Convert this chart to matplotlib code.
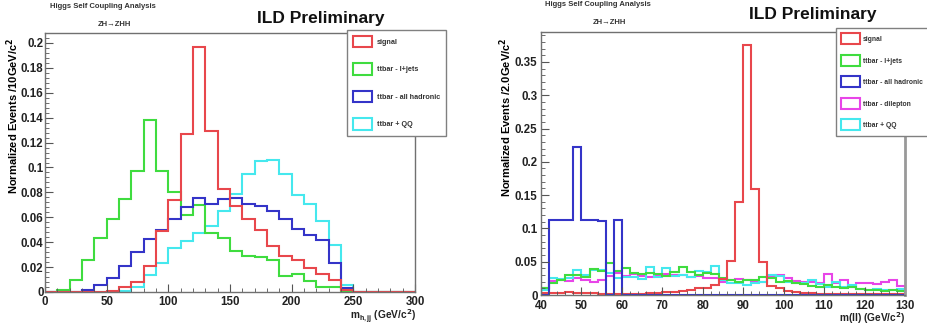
import numpy as np
import matplotlib.pyplot as plt
from matplotlib.patches import Patch
from matplotlib.ticker import MultipleLocator, FormatStrFormatter

plt.rcParams["font.family"] = ["Liberation Sans", "DejaVu Sans"]
plt.rcParams["font.weight"] = "bold"

# left panel: m_h,jj, 10 GeV bins from 0 to 300
mh_edges = np.arange(0, 310, 10)
mh_signal = [0, 0, 0, 0, 0, 0.001, 0.004, 0.008, 0.021, 0.049,
             0.074, 0.127, 0.197, 0.129, 0.083, 0.069, 0.0585, 0.050, 0.0367, 0.029,
             0.026, 0.019, 0.0144, 0.0095, 0.002, 0, 0, 0, 0, 0]
mh_ljets = [0, 0.002, 0.0095, 0.026, 0.0435, 0.059, 0.075, 0.097, 0.138, 0.097,
            0.080, 0.062, 0.070, 0.047, 0.043, 0.0326, 0.029, 0.028, 0.026, 0.0128,
            0.0144, 0.0087, 0.0044, 0.004, 0.001, 0, 0, 0, 0, 0]
mh_hadronic = [0, 0, 0, 0.0014, 0.0054, 0.011, 0.021, 0.032, 0.0427, 0.0498,
               0.059, 0.068, 0.0754, 0.0707, 0.0748, 0.0756, 0.0707, 0.0688, 0.0648, 0.059,
               0.0503, 0.0454, 0.0416, 0.023, 0.003, 0, 0, 0, 0, 0]
mh_qq = [0, 0, 0, 0, 0, 0, 0.001, 0.004, 0.0136, 0.023,
         0.035, 0.041, 0.047, 0.053, 0.065, 0.079, 0.095, 0.105, 0.106, 0.095,
         0.0775, 0.0707, 0.057, 0.038, 0.0054, 0, 0, 0, 0, 0]

# right panel: m(ll), 2 GeV bins from 40 to 130
mll_edges = np.arange(40, 132, 2)
mll_signal = [0.003, 0.003, 0.003, 0.004, 0.003, 0.003, 0.003, 0.002, 0.002, 0.002,
              0.002, 0.002, 0.002, 0.003, 0.003, 0.004, 0.005, 0.006, 0.008, 0.010,
              0.010, 0.015, 0.024, 0.051, 0.139, 0.376, 0.159, 0.049, 0.013, 0.010,
              0.006, 0.005, 0.003, 0.003, 0.002, 0.001, 0.001, 0.001, 0.001, 0.001,
              0.001, 0.001, 0.001, 0.001, 0.001]
mll_ljets = [0.010, 0.0175, 0.0225, 0.030, 0.030, 0.027, 0.039, 0.0365, 0.0475, 0.0365,
             0.040, 0.0325, 0.031, 0.0335, 0.031, 0.029, 0.035, 0.0425, 0.035, 0.030,
             0.0325, 0.0315, 0.025, 0.0225, 0.020, 0.022, 0.0225, 0.0275, 0.025, 0.020,
             0.021, 0.018, 0.016, 0.013, 0.012, 0.015, 0.012, 0.010, 0.012, 0.009,
             0.007, 0.008, 0.006, 0.007, 0.006]
mll_hadronic = [0, 0.1125, 0.1125, 0.112, 0.222, 0.112, 0.113, 0.111, 0, 0.112] + [0] * 35
mll_dilepton = [0.010, 0.0215, 0.0225, 0.0215, 0.026, 0.0225, 0.020, 0.0225, 0.028, 0.0325,
                0.0285, 0.031, 0.0285, 0.0265, 0.0285, 0.0315, 0.030, 0.030, 0.0265, 0.028,
                0.026, 0.025, 0.020, 0.0225, 0.0235, 0.022, 0.020, 0.020, 0.027, 0.030,
                0.025, 0.021, 0.020, 0.019, 0.0175, 0.031, 0.0175, 0.0225, 0.0125, 0.0185,
                0.0185, 0.016, 0.020, 0.0225, 0.0135]
mll_qq = [0.0075, 0.025, 0.0235, 0.025, 0.0375, 0.030, 0.0375, 0.0375, 0.0325, 0.025,
          0.0275, 0.0265, 0.024, 0.0425, 0.0275, 0.040, 0.0285, 0.030, 0.0275, 0.0365,
          0.035, 0.044, 0.0225, 0.0185, 0.0185, 0.015, 0.0175, 0.020, 0.030, 0.0285,
          0.020, 0.018, 0.0175, 0.0225, 0.0165, 0.0115, 0.020, 0.0125, 0.015, 0.0085,
          0.0075, 0.0085, 0.008, 0.007, 0.0085]

colors = {
    "signal": "#e8474c",
    "ttbar - l+jets": "#3fdc3f",
    "ttbar - all hadronic": "#3434c8",
    "ttbar - dilepton": "#e845e8",
    "ttbar + QQ": "#45e8ee",
}


def style_axis(ax, xmajor, xminor, ymajor, yminor, xpad, ypad):
    for spine in ax.spines.values():
        spine.set_color("#707070")
        spine.set_linewidth(1.0)
    ax.xaxis.set_major_locator(MultipleLocator(xmajor))
    ax.xaxis.set_minor_locator(MultipleLocator(xminor))
    ax.yaxis.set_major_locator(MultipleLocator(ymajor))
    ax.yaxis.set_minor_locator(MultipleLocator(yminor))
    ax.yaxis.set_major_formatter(FormatStrFormatter("%g"))
    ax.tick_params(which="both", direction="in", colors="#555555",
                   labelcolor="#222222", labelsize=8.3)
    ax.tick_params(which="major", length=6)
    ax.tick_params(which="minor", length=3)
    ax.tick_params(axis="y", pad=ypad)
    ax.tick_params(axis="x", pad=xpad)
    for lab in ax.get_xticklabels() + ax.get_yticklabels():
        lab.set_fontweight("bold")


def add_legend(ax, labels, bbox, handleheight, spacing, fontsize, textpad):
    handles = [Patch(facecolor="white", edgecolor=colors[l], linewidth=1.5) for l in labels]
    leg = ax.legend(handles, labels, loc="upper left", bbox_to_anchor=bbox,
                    bbox_transform=fig.transFigure, fontsize=fontsize, frameon=True,
                    fancybox=False, framealpha=1, edgecolor="#808080",
                    handlelength=2.7, handleheight=handleheight,
                    labelspacing=spacing, borderpad=0.8, borderaxespad=0,
                    handletextpad=textpad)
    leg.get_frame().set_linewidth(1.0)
    for t in leg.get_texts():
        t.set_fontweight("bold")
        t.set_color("#333333")


fig = plt.figure(figsize=(9.27, 3.27), dpi=100)

# left panel
ax1 = fig.add_axes([45 / 927, 1 - 292 / 327, 370 / 927, 259 / 327])
for label, vals in [("ttbar + QQ", mh_qq), ("ttbar - l+jets", mh_ljets),
                    ("ttbar - all hadronic", mh_hadronic), ("signal", mh_signal)]:
    ax1.stairs(vals, mh_edges, color=colors[label], linewidth=1.5, baseline=0)
ax1.set_xlim(0, 300)
ax1.set_ylim(0, 0.208)
style_axis(ax1, 50, 10, 0.02, 0.004, 3, 1)

# right panel
ax2 = fig.add_axes([541 / 927, 1 - 295 / 327, 364 / 927, 263 / 327])
for label, vals in [("ttbar - dilepton", mll_dilepton), ("ttbar + QQ", mll_qq),
                    ("ttbar - l+jets", mll_ljets), ("signal", mll_signal),
                    ("ttbar - all hadronic", mll_hadronic)]:
    ax2.stairs(vals, mll_edges, color=colors[label], linewidth=1.5, baseline=0)
ax2.set_xlim(40, 130)
ax2.set_ylim(0, 0.395)
style_axis(ax2, 10, 2, 0.05, 0.01, 3.5, 2.5)
ax2.spines["right"].set_color("#999999")
ax2.spines["right"].set_linewidth(2.0)

# axis labels, placed like ROOT does
fig.text(13 / 927, 1 - 116 / 327, "Normalized Events /10GeV/c$^2$", rotation=90,
         ha="center", va="center", fontsize=8, fontweight="bold")
fig.text(506 / 927, 1 - 117 / 327, "Normalized Events /2.0GeV/c$^2$", rotation=90,
         ha="center", va="center", fontsize=8, fontweight="bold")
fig.text(416 / 927, 1 - 317 / 327, r"m$_{\mathregular{h,jj}}$ (GeV/c$^2$)",
         ha="right", va="center", fontsize=7.3, fontweight="bold", color="#222222")
fig.text(905 / 927, 1 - 318.5 / 327, "m(ll) (GeV/c$^2$)",
         ha="right", va="center", fontsize=7.3, fontweight="bold", color="#222222")

# titles
for x0, y_top, y_sub, x_ild, y_ild in [(50, 7, 25, 321, 19), (545, 5, 22, 813, 15)]:
    fig.text(x0 / 927, 1 - y_top / 327, "Higgs Self Coupling Analysis",
             ha="left", va="center", fontsize=5.5, fontweight="bold", color="#333333")
    fig.text((x0 + 64) / 927, 1 - y_sub / 327, "ZH\u2192ZHH",
             ha="center", va="center", fontsize=5.5, fontweight="bold", color="#333333")
    fig.text(x_ild / 927, 1 - y_ild / 327, "ILD Preliminary",
             ha="center", va="center", fontsize=12.5, fontweight="bold", color="#111111")

add_legend(ax1, ["signal", "ttbar - l+jets", "ttbar - all hadronic", "ttbar + QQ"],
           (347 / 927, 1 - 30 / 327), 2.1, 2.2, 5.2, 0.6)
add_legend(ax2, ["signal", "ttbar - l+jets", "ttbar - all hadronic",
                 "ttbar - dilepton", "ttbar + QQ"],
           (836 / 927, 1 - 28 / 327), 2.1, 1.55, 4.9, 0.4)

fig.savefig("out.png", dpi=100)
